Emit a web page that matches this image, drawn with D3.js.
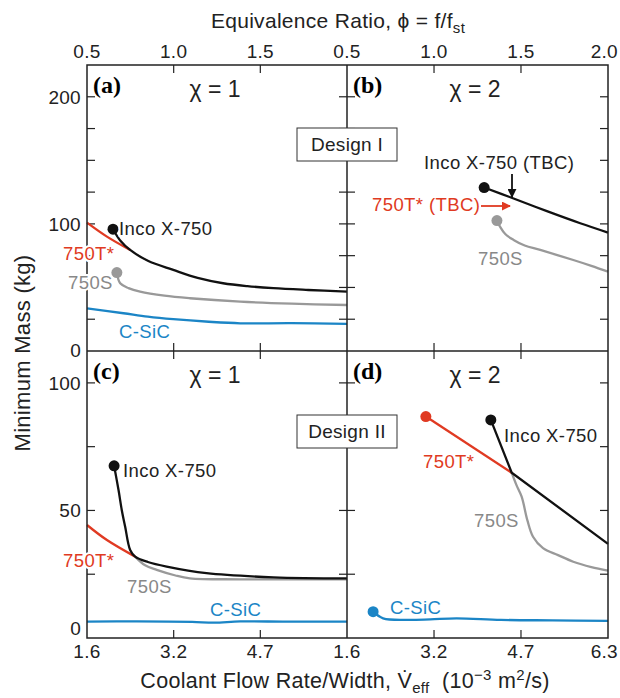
<!DOCTYPE html>
<html>
<head>
<meta charset="utf-8">
<script src="https://d3js.org/d3.v7.min.js"></script>
<style>
  body { margin: 0; background: #fff; }
  text { font-family: "Liberation Sans", Arial, sans-serif; }
</style>
</head>
<body>
<svg width="620" height="698"></svg>
<script>
// x values are coolant flow rate (1e-3 m2/s), y values are mass (kg)
const phiTicks = [0.5, 1.0, 1.5, 2.0];
const vTicks = [1.6, 3.167, 4.733, 6.3];
const vTickLabels = ["1.6", "3.2", "4.7", "6.3"];
const topYTicks = [0, 100, 200];
const botYTicks = [0, 50, 100];

// panel (a)
const aInco = [[2.07, 95.8], [2.2, 87], [2.38, 79.5], [2.7, 71], [3.16, 63.8], [3.6, 57.5], [4.06, 53.3], [4.5, 51], [4.97, 49.4], [5.6, 48], [6.3, 46.7]];
const aT = [[1.6, 101], [1.96, 90], [2.38, 79.5]];
const aS = [[2.14, 61.7], [2.2, 53.3], [2.35, 49.5], [2.56, 46.7], [3.0, 43.5], [3.46, 41.5], [4.37, 38.8], [5.3, 37.2], [6.3, 36.2]];
const aC = [[1.6, 33.6], [2.26, 29.7], [2.7, 27], [3.16, 25], [3.8, 23], [4.37, 21.8], [5.3, 21.9], [6.3, 21.3]];
// panel (b)
const bInco = [[4.07, 128.6], [4.6, 120], [5.2, 110], [5.8, 100.5], [6.3, 93.2]];
const bS = [[4.3, 102.6], [4.355, 97.9], [4.45, 92], [4.6, 87.4], [4.8, 83], [5.08, 79.5], [5.675, 71.6], [6.0, 67], [6.3, 62.4]];
// panel (c)
const cInco = [[2.09, 67.5], [2.17, 58], [2.23, 50], [2.29, 43.6], [2.38, 34.5], [2.47, 31.9], [2.7, 29.8], [3.04, 28], [3.76, 25.4], [4.97, 23.8], [6.3, 23.4]];
const cT = [[1.6, 44.3], [1.96, 38.4], [2.47, 31.9]];
const cS = [[2.47, 31.9], [2.65, 28.5], [2.86, 26.7], [3.2, 24.5], [3.46, 23.4], [4.37, 23.0], [6.3, 23.0]];
const cC = [[1.6, 6.4], [2.5, 6.5], [3.5, 6.3], [3.9, 6.0], [4.37, 6.5], [5.2, 6.4], [6.3, 6.4]];
// panel (d)
const dT = [[3.02, 86.8], [4.566, 64.8]];
const dInco = [[4.19, 85.5], [4.566, 64.8], [6.3, 36.9]];
const dS = [[4.566, 64.8], [4.65, 60], [4.745, 55.4], [4.85, 46], [4.95, 39.7], [5.13, 35.2], [5.4, 32.5], [5.675, 29.9], [6.0, 27.8], [6.3, 26.4]];
const dC = [[2.07, 10.3], [2.25, 7.7], [2.67, 7.1], [3.1, 7.3], [3.57, 7.7], [4.37, 7.1], [5.3, 6.9], [6.3, 6.7]];

const BLACK = "#111", RED = "#e03a22", GRAY = "#999", BLUE = "#1b85c6";

const svg = d3.select("svg");
const L = 87, M = 347, R = 608, T = 65, MID = 351, B = 638;

const panels = [
  { id: "(a)", chi: "χ = 1", x0: L, x1: M, y0: T, y1: MID, ymax: 225, yt: topYTicks, left: true, top: true },
  { id: "(b)", chi: "χ = 2", x0: M, x1: R, y0: T, y1: MID, ymax: 225, yt: topYTicks, left: false, top: true },
  { id: "(c)", chi: "χ = 1", x0: L, x1: M, y0: MID, y1: B, ymax: 112.5, yt: botYTicks, left: true, top: false },
  { id: "(d)", chi: "χ = 2", x0: M, x1: R, y0: MID, y1: B, ymax: 112.5, yt: botYTicks, left: false, top: false }
];

// last tick label sits at the right edge of the window
const xAnchor = (i, n) => (i === n - 1 && n === 4) ? "end" : "middle";
const xShift = (i, n) => (i === n - 1 && n === 4) ? 10 : 0;

panels.forEach(p => {
  p.x = d3.scaleLinear().domain([1.6, 6.3]).range([p.x0, p.x1]);
  p.phi = d3.scaleLinear().domain([0.5, 2.0]).range([p.x0, p.x1]);
  p.y = d3.scaleLinear().domain([0, p.ymax]).range([p.y1, p.y0]);
  const g = svg.append("g");
  p.g = g;
  const minor = d3.range(25, p.ymax, 25);
  // inward ticks on all sides
  g.selectAll(".yl").data(minor).join("line")
    .attr("x1", p.x0).attr("x2", p.x0 + 8)
    .attr("y1", d => p.y(d)).attr("y2", d => p.y(d))
    .attr("stroke", "#222").attr("stroke-width", 1.2);
  g.selectAll(".yr").data(minor).join("line")
    .attr("x1", p.x1).attr("x2", p.x1 - 8)
    .attr("y1", d => p.y(d)).attr("y2", d => p.y(d))
    .attr("stroke", "#222").attr("stroke-width", 1.2);
  const inner = vTicks.slice(1, 3);
  g.selectAll(".xb").data(inner).join("line")
    .attr("x1", d => p.x(d)).attr("x2", d => p.x(d))
    .attr("y1", p.y1).attr("y2", p.y1 - 8)
    .attr("stroke", "#222").attr("stroke-width", 1.2);
  g.selectAll(".xt").data(inner).join("line")
    .attr("x1", d => p.x(d)).attr("x2", d => p.x(d))
    .attr("y1", p.y0).attr("y2", p.y0 + 8)
    .attr("stroke", "#222").attr("stroke-width", 1.2);

  if (p.left) {
    svg.selectAll(null).data(p.yt).join("text")
      .attr("x", p.x0 - 6).attr("y", d => d === 0 ? p.y(d) + (p.top ? 6 : -3) : p.y(d) + 7)
      .attr("text-anchor", "end").attr("font-size", 19).attr("letter-spacing", 0.3).attr("fill", "#222")
      .text(d => d);
  }
  if (p.top) {
    const ph = p.left ? phiTicks.slice(0, 3) : phiTicks;
    const n = ph.length;
    svg.selectAll(null).data(ph).join("text")
      .attr("x", (d, i) => p.phi(d) + xShift(i, n)).attr("y", p.y0 - 7)
      .attr("text-anchor", (d, i) => xAnchor(i, n)).attr("font-size", 19).attr("letter-spacing", 0.3).attr("fill", "#222")
      .text(d => d.toFixed(1));
  } else {
    const idx = p.left ? [0, 1, 2] : [0, 1, 2, 3];
    const n = idx.length;
    svg.selectAll(null).data(idx).join("text")
      .attr("x", i => p.x(vTicks[i]) + xShift(i, n)).attr("y", p.y1 + 20)
      .attr("text-anchor", i => xAnchor(i, n)).attr("font-size", 19).attr("letter-spacing", 0.3).attr("fill", "#222")
      .text(i => vTickLabels[i]);
  }

  g.append("text").attr("x", p.x0 + 6).attr("y", p.y0 + 28)
    .style("font-family", "'Liberation Serif', serif")
    .attr("font-weight", "bold").attr("font-size", 24).text(p.id);
  g.append("text").attr("x", p.x0 + 128).attr("y", p.y0 + 32)
    .attr("text-anchor", "middle").attr("font-size", 23).attr("fill", "#222").text(p.chi);
});

const lineN = p => d3.line().x(d => p.x(d[0])).y(d => p.y(d[1])).curve(d3.curveCatmullRom.alpha(0.5));
const lineS = p => d3.line().x(d => p.x(d[0])).y(d => p.y(d[1]));
function path(p, data, color, gen) {
  p.g.append("path").datum(data).attr("d", (gen || lineN)(p))
    .attr("fill", "none").attr("stroke", color).attr("stroke-width", 2.3);
}
function dot(p, d, color) {
  p.g.append("circle").attr("cx", p.x(d[0])).attr("cy", p.y(d[1])).attr("r", 5.5).attr("fill", color);
}
function label(x, y, txt, color) {
  svg.append("text").attr("x", x).attr("y", y).attr("font-size", 18.5).attr("letter-spacing", 0.4)
    .attr("fill", color)
    .attr("stroke", "#fff").attr("stroke-width", 4).attr("paint-order", "stroke")
    .text(txt);
}

const [pa, pb, pc, pd] = panels;

// panel a
path(pa, aC, BLUE);
path(pa, aS, GRAY);
path(pa, aT, RED);
path(pa, aInco, BLACK);
dot(pa, aInco[0], BLACK);
dot(pa, aS[0], GRAY);

// panel b
path(pb, bS, GRAY);
path(pb, bInco, BLACK);
dot(pb, bInco[0], BLACK);
dot(pb, bS[0], GRAY);

// panel c
path(pc, cC, BLUE);
path(pc, cS, GRAY);
path(pc, cT, RED);
path(pc, cInco, BLACK);
dot(pc, cInco[0], BLACK);

// panel d
path(pd, dC, BLUE);
path(pd, dS, GRAY);
path(pd, dT, RED, lineS);
path(pd, dInco, BLACK, lineS);
dot(pd, dT[0], RED);
dot(pd, dInco[0], BLACK);
dot(pd, dC[0], BLUE);

// frame
svg.append("rect").attr("x", L).attr("y", T).attr("width", R - L).attr("height", B - T)
  .attr("fill", "none").attr("stroke", "#222").attr("stroke-width", 1.5);
svg.append("line").attr("x1", M).attr("x2", M).attr("y1", T).attr("y2", B).attr("stroke", "#222").attr("stroke-width", 1.5);
svg.append("line").attr("x1", L).attr("x2", R).attr("y1", MID).attr("y2", MID).attr("stroke", "#222").attr("stroke-width", 1.5);

// series labels
label(119, 235, "Inco X-750", "#222");
label(63, 260, "750T*", RED);
label(68, 289, "750S", "#888");
label(119, 338, "C-SiC", BLUE);

label(424, 169, "Inco X-750 (TBC)", "#222");
label(372, 211, "750T* (TBC)", RED);
label(478, 265, "750S", "#888");

label(123, 477, "Inco X-750", "#222");
label(63, 567, "750T*", RED);
label(127, 593, "750S", "#888");
label(210, 616, "C-SiC", BLUE);

label(504, 442, "Inco X-750", "#222");
label(423, 468, "750T*", RED);
label(474, 527, "750S", "#888");
label(390, 614, "C-SiC", BLUE);

// arrows in (b)
svg.append("defs").html(
  '<marker id="ab" viewBox="0 0 10 10" refX="9" refY="5" markerWidth="5" markerHeight="5" orient="auto"><path d="M0,0L10,5L0,10z" fill="#111"/></marker>' +
  '<marker id="ar" viewBox="0 0 10 10" refX="9" refY="5" markerWidth="5" markerHeight="5" orient="auto"><path d="M0,0L10,5L0,10z" fill="' + RED + '"/></marker>');
svg.append("line").attr("x1", 512).attr("x2", 512).attr("y1", 174).attr("y2", 197)
  .attr("stroke", "#111").attr("stroke-width", 1.8).attr("marker-end", "url(#ab)");
svg.append("line").attr("x1", 481).attr("x2", 510).attr("y1", 206).attr("y2", 206)
  .attr("stroke", RED).attr("stroke-width", 1.8).attr("marker-end", "url(#ar)");

// design boxes
[["Design I", 128], ["Design II", 415]].forEach(([t, y]) => {
  svg.append("rect").attr("x", 297).attr("y", y).attr("width", 100).attr("height", 33)
    .attr("fill", "#fff").attr("stroke", "#333").attr("stroke-width", 1);
  svg.append("text").attr("x", 347).attr("y", y + 23).attr("text-anchor", "middle")
    .attr("font-size", 19).attr("letter-spacing", 0.3).attr("fill", "#222").text(t);
});

// axis titles
const tt = svg.append("text").attr("x", 338).attr("y", 28).attr("text-anchor", "middle")
  .attr("font-size", 21).attr("letter-spacing", 0.3).attr("fill", "#222");
tt.append("tspan").text("Equivalence Ratio, ϕ = f/f");
tt.append("tspan").attr("font-size", 15).attr("dy", 5).text("st");

const bt = svg.append("text").attr("x", 345).attr("y", 688).attr("text-anchor", "middle")
  .attr("font-size", 21.5).attr("letter-spacing", 0.3).attr("fill", "#222");
bt.append("tspan").text("Coolant Flow Rate/Width, V\u0307");
bt.append("tspan").attr("font-size", 15).attr("dy", 5).text("eff");
bt.append("tspan").attr("dy", -5).text("\u00a0 (10");
bt.append("tspan").attr("font-size", 15).attr("dy", -8).text("−3");
bt.append("tspan").attr("dy", 8).text(" m");
bt.append("tspan").attr("font-size", 15).attr("dy", -8).text("2");
bt.append("tspan").attr("dy", 8).text("/s)");

svg.append("text").attr("transform", "translate(30,353) rotate(-90)")
  .attr("text-anchor", "middle").attr("font-size", 22).attr("letter-spacing", 0.3).attr("fill", "#222")
  .text("Minimum Mass (kg)");
</script>
</body>
</html>
